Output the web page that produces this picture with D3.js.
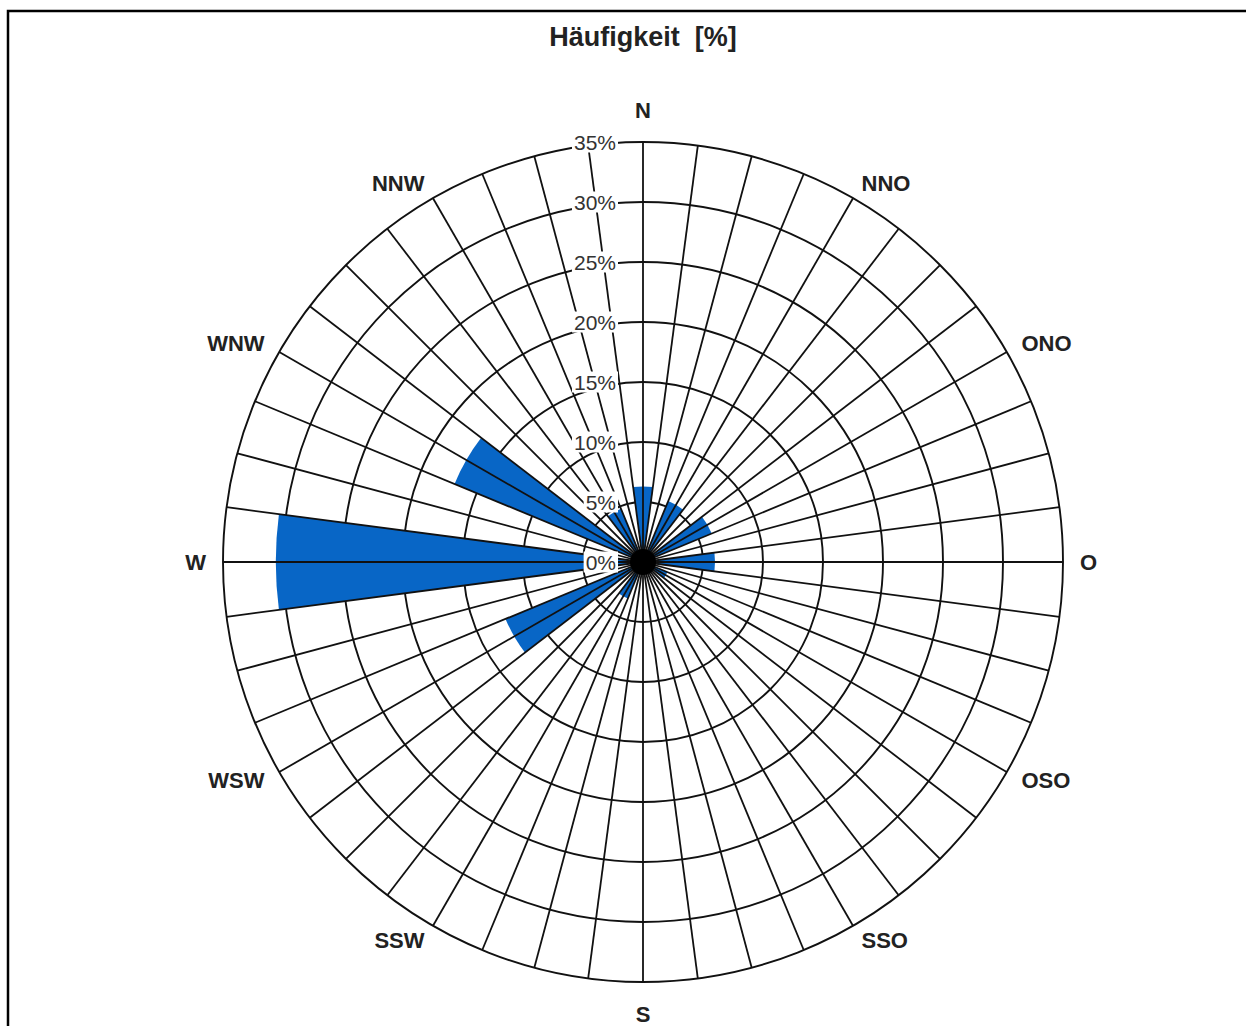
<!DOCTYPE html>
<html>
<head>
<meta charset="utf-8">
<script src="https://cdn.jsdelivr.net/npm/d3@7"></script>
<style>
  html, body { margin: 0; padding: 0; background: #fff; }
  svg { display: block; }
</style>
</head>
<body>
<svg id="chart" width="1246" height="1026"></svg>
<script>
// Sector centres (degrees, clockwise from north) and frequency (%)
const sectorAngles = [0, 15, 30, 45, 60, 75, 90, 105, 120, 135, 150, 165,
                      180, 195, 210, 225, 240, 255, 270, 285, 300, 315, 330, 345];
const frequencies  = [6.3, 1.0, 5.5, 1.0, 6.2, 1.0, 6.0, 1.0, 2.2, 1.0, 1.0, 1.0,
                      1.0, 1.0, 3.3, 1.0, 12.4, 1.0, 30.6, 1.0, 17.0, 1.0, 4.8, 1.0];
const tickValues   = [0, 5, 10, 15, 20, 25, 30, 35];
const tickLabels   = ["0%", "5%", "10%", "15%", "20%", "25%", "30%", "35%"];
const compassNames  = ["N", "NNO", "ONO", "O", "OSO", "SSO", "S", "SSW", "WSW", "W", "WNW", "NNW"];
const compassAngles = [0, 30, 60, 90, 120, 150, 180, 210, 240, 270, 300, 330];
const title = "Häufigkeit  [%]";

const svg = d3.select("#chart");
const cx = 643, cy = 562;
const rScale = d3.scaleLinear().domain([0, 35]).range([0, 420]);
const sectorWidth = 15;
const gridStep = 7.5;
const toRad = d => d * Math.PI / 180;
const font = "Liberation Sans, Arial, sans-serif";

// frame
svg.append("rect")
  .attr("x", 8).attr("y", 11).attr("width", 1300).attr("height", 1100)
  .attr("fill", "none").attr("stroke", "#000").attr("stroke-width", 2.5);

// title
svg.append("text")
  .attr("x", 643).attr("y", 46)
  .attr("text-anchor", "middle")
  .attr("font-family", font)
  .attr("font-weight", "bold").attr("font-size", 27)
  .attr("fill", "#222")
  .style("white-space", "pre")
  .text(title);

const g = svg.append("g").attr("transform", `translate(${cx},${cy})`);

// circles (below bars)
g.selectAll("circle.grid")
  .data(tickValues.filter(v => v > 0))
  .join("circle")
  .attr("class", "grid")
  .attr("r", d => rScale(d))
  .attr("fill", "none").attr("stroke", "#111").attr("stroke-width", 1.9);

// bars
const arc = d3.arc()
  .innerRadius(0)
  .outerRadius(d => rScale(d.v))
  .startAngle(d => toRad(d.a - sectorWidth / 2))
  .endAngle(d => toRad(d.a + sectorWidth / 2));

g.selectAll("path.bar")
  .data(sectorAngles.map((a, i) => ({a, v: frequencies[i]})))
  .join("path")
  .attr("class", "bar")
  .attr("d", arc)
  .attr("fill", "#0866c6");

// radial lines (above bars)
const radialAngles = d3.range(0, 360, gridStep);
g.selectAll("line.radial")
  .data(radialAngles)
  .join("line")
  .attr("class", "radial")
  .attr("x1", 0).attr("y1", 0)
  .attr("x2", d => rScale(35) * Math.sin(toRad(d)))
  .attr("y2", d => -rScale(35) * Math.cos(toRad(d)))
  .attr("stroke", "#111").attr("stroke-width", 1.8);

// dark hub where all radial lines meet
g.append("circle").attr("r", 13).attr("fill", "#000");

// tick labels with white background
const tickG = g.selectAll("g.tick")
  .data(tickValues.map((v, i) => ({v, t: tickLabels[i]})))
  .join("g")
  .attr("class", "tick")
  .attr("transform", d => `translate(-27,${-rScale(d.v)})`);

tickG.each(function(d) {
  const sel = d3.select(this);
  const txt = sel.append("text")
    .attr("text-anchor", "end")
    .attr("dominant-baseline", "central")
    .attr("font-family", font)
    .attr("font-size", 21)
    .attr("fill", "#333")
    .text(d.t);
  const bb = txt.node().getBBox();
  sel.insert("rect", "text")
    .attr("x", bb.x - 2).attr("y", bb.y + 1)
    .attr("width", bb.width + 4).attr("height", bb.height - 2)
    .attr("fill", "#fff");
});

// compass labels: anchored at their inner edge, just outside the outer circle
const labelR = rScale(35) + 17;
const labelRAxis = rScale(35) + 32;
g.selectAll("text.compass")
  .data(compassAngles.map((a, i) => ({a, n: compassNames[i]})))
  .join("text")
  .attr("class", "compass")
  .each(function(d) {
    const s = Math.sin(toRad(d.a)), c = Math.cos(toRad(d.a));
    const onAxis = Math.abs(s) < 0.1;
    const R = onAxis ? labelRAxis : labelR;
    d3.select(this)
      .attr("x", R * s)
      .attr("y", -R * c)
      .attr("text-anchor", s > 0.1 ? "start" : (s < -0.1 ? "end" : "middle"));
  })
  .attr("dominant-baseline", "central")
  .attr("font-family", font)
  .attr("font-weight", "bold").attr("font-size", 22)
  .attr("fill", "#222")
  .text(d => d.n);
</script>
</body>
</html>
